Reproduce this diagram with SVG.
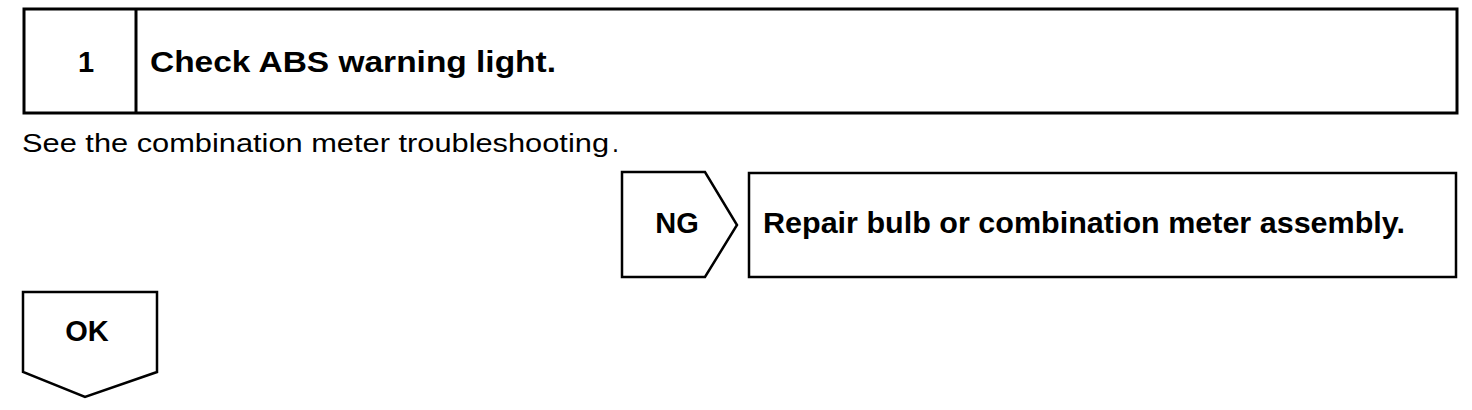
<svg xmlns="http://www.w3.org/2000/svg" width="1472" height="410" viewBox="0 0 1472 410">
<style>
.box{fill:#fff;stroke:#000;stroke-width:2.5}
.thick{fill:#fff;stroke:#000;stroke-width:3}
.b{font-family:"Liberation Sans",Arial,sans-serif;font-weight:bold;font-size:29px;fill:#000}
.r{font-family:"Liberation Sans",Arial,sans-serif;font-size:25px;fill:#000}
</style>
<rect width="1472" height="410" fill="#fff"/>
<g id="step1">
<rect class="thick" x="24" y="9" width="1433" height="104"/>
<line x1="136" y1="9" x2="136" y2="113" stroke="#000" stroke-width="3"/>
<text class="b" x="86" y="72" text-anchor="middle">1</text>
<text class="b" x="150" y="72" textLength="406" lengthAdjust="spacingAndGlyphs">Check ABS warning light.</text>
</g>
<g id="note">
<text class="r" x="22" y="152" textLength="587" lengthAdjust="spacingAndGlyphs">See the combination meter troubleshooting</text>
<text class="r" x="612" y="152">.</text>
</g>
<g id="ng">
<polygon class="box" points="622,172 705,172 737,225 705,277 622,277"/>
<text class="b" x="677" y="233" text-anchor="middle">NG</text>
</g>
<g id="repair">
<rect class="box" x="749" y="173" width="707" height="104"/>
<text class="b" x="763" y="233" textLength="642" lengthAdjust="spacingAndGlyphs">Repair bulb or combination meter assembly.</text>
</g>
<g id="ok">
<polygon class="box" points="23,292 157,292 157,372 85,397 23,372"/>
<text class="b" x="87" y="341" text-anchor="middle">OK</text>
</g>
<g id="connectors"></g>
</svg>
